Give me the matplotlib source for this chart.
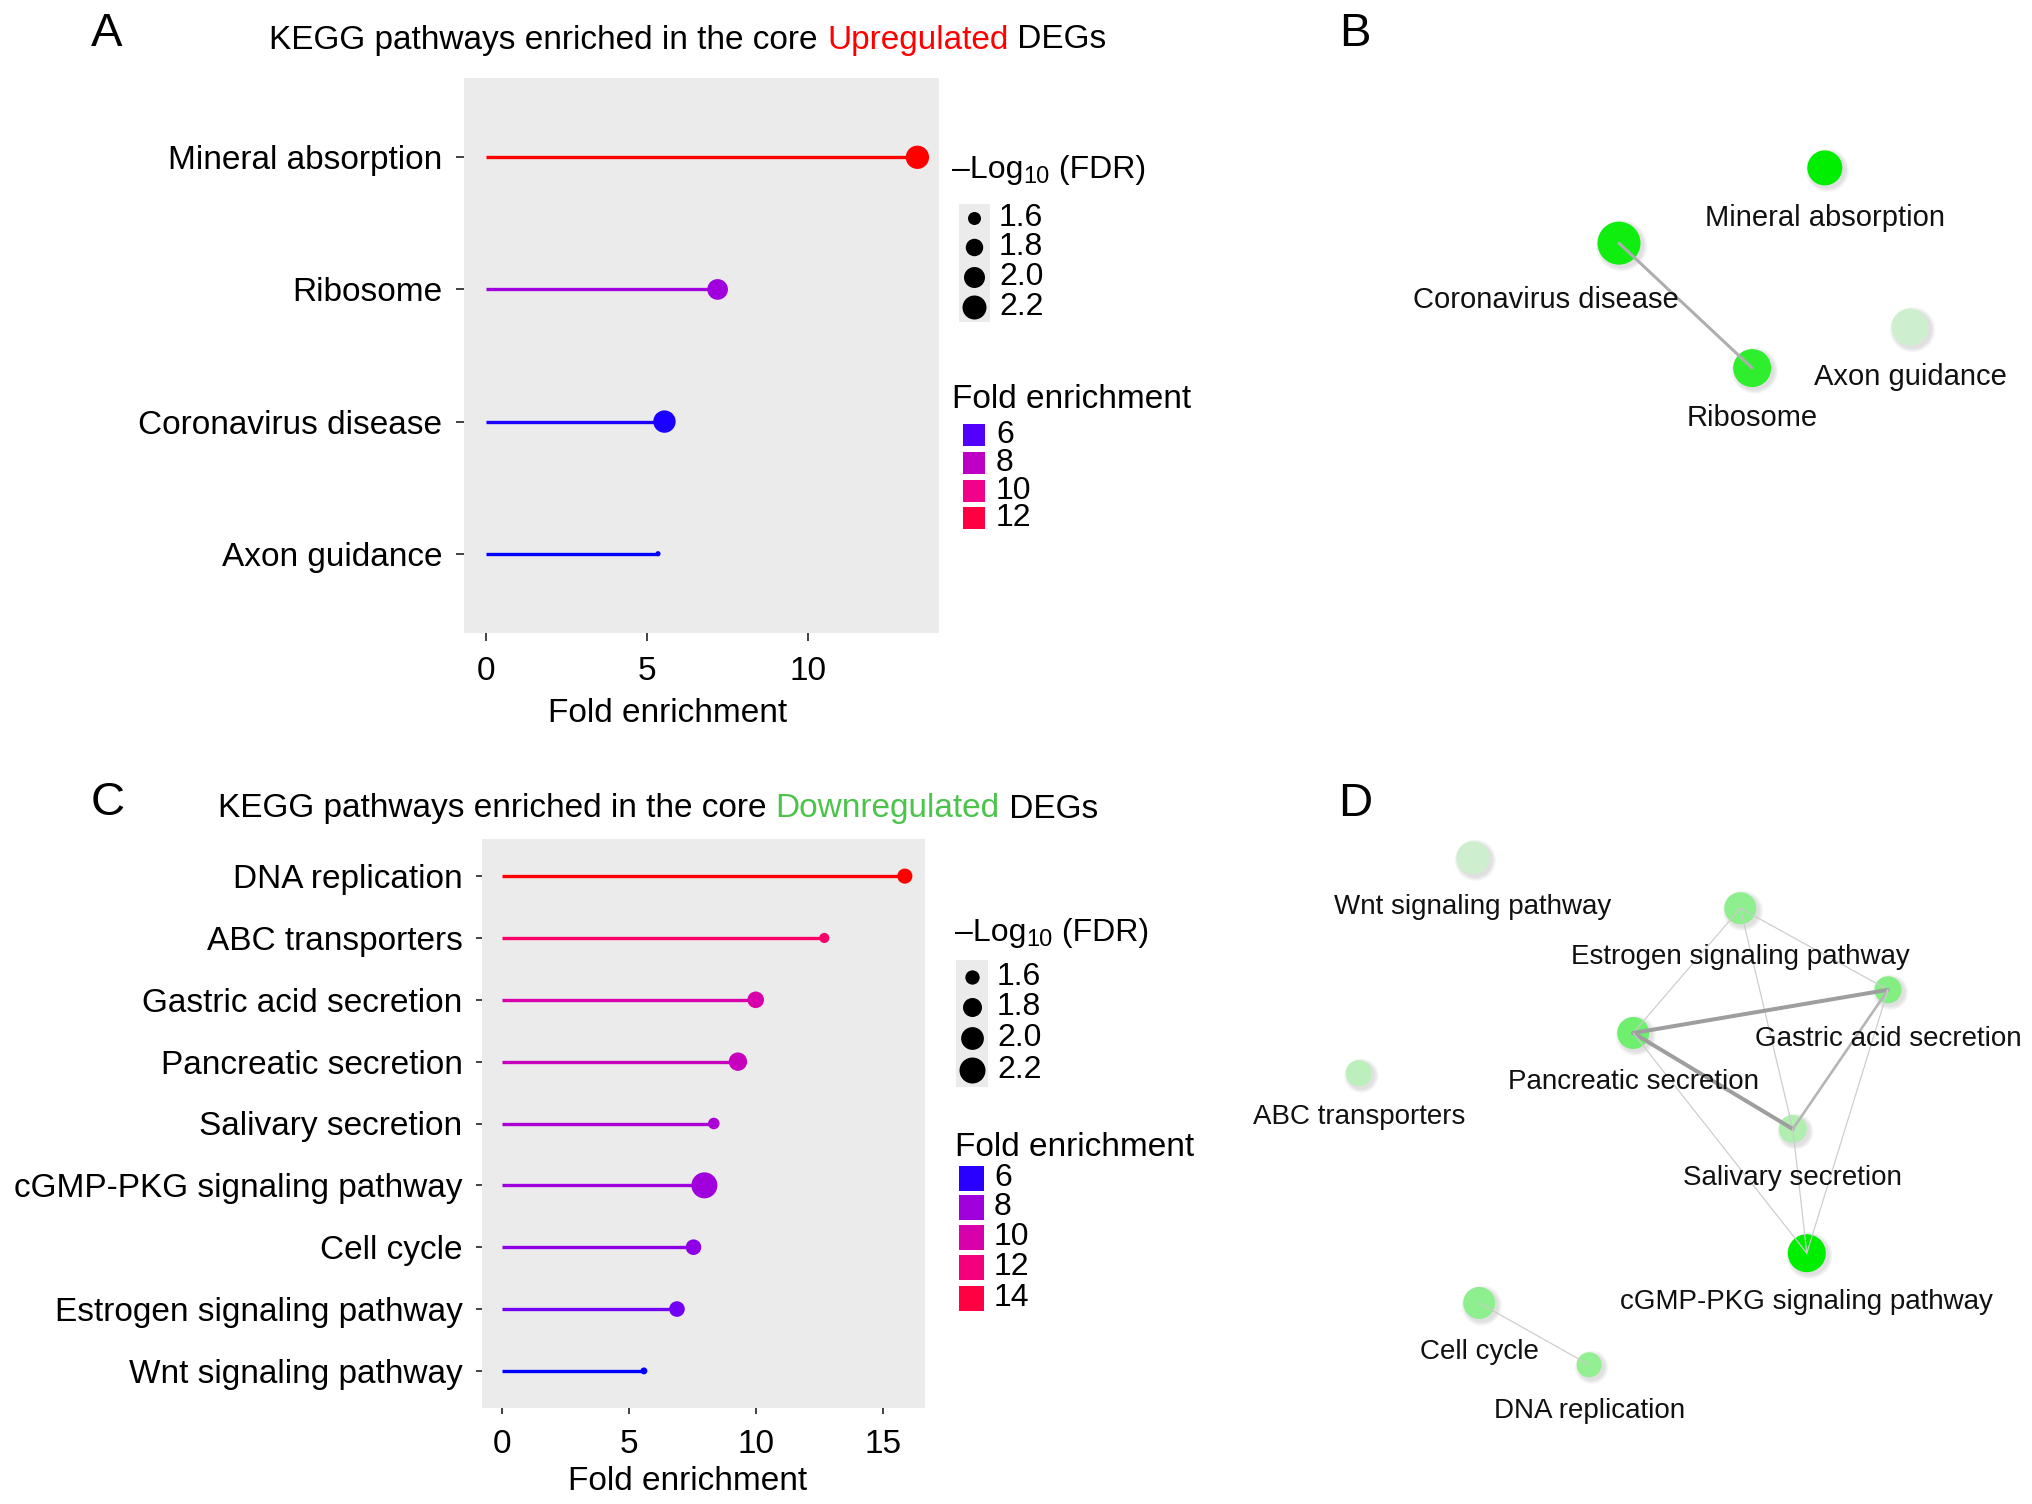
import numpy as np
import matplotlib
matplotlib.use("Agg")
import matplotlib.pyplot as plt
from matplotlib.patches import Rectangle
from matplotlib.colors import LinearSegmentedColormap
from matplotlib import transforms

plt.rcParams['font.family'] = ['Liberation Sans', 'DejaVu Sans']
plt.rcParams['mathtext.default'] = 'regular'

# ---------------- data ----------------
up_terms = ["Mineral absorption", "Ribosome", "Coronavirus disease", "Axon guidance"]
up_fold = [13.4, 7.2, 5.55, 5.35]
up_logfdr = [2.15, 1.98, 2.09, 1.39]

down_terms = ["DNA replication", "ABC transporters", "Gastric acid secretion",
              "Pancreatic secretion", "Salivary secretion", "cGMP-PKG signaling pathway",
              "Cell cycle", "Estrogen signaling pathway", "Wnt signaling pathway"]
down_fold = [15.87, 12.7, 10.0, 9.3, 8.35, 7.98, 7.55, 6.9, 5.6]
down_logfdr = [1.63, 1.47, 1.69, 1.77, 1.51, 2.2, 1.65, 1.65, 1.40]

size_breaks = [1.6, 1.8, 2.0, 2.2]
up_color_breaks = [6, 8, 10, 12]
down_color_breaks = [6, 8, 10, 12, 14]
up_xticks = [0, 5, 10]
down_xticks = [0, 5, 10, 15]

# network B (layout coordinates, node size, edges with overlap weight)
b_nodes = ["Mineral absorption", "Coronavirus disease", "Axon guidance", "Ribosome"]
b_lx = [0.708, 0.365, 0.850, 0.587]
b_ly = [0.194, 0.409, 0.649, 0.766]
b_nsize = [35, 43, 37, 38]
b_edges = [("Coronavirus disease", "Ribosome", 2.3)]

# network D
d_nodes = ["Wnt signaling pathway", "Estrogen signaling pathway", "Gastric acid secretion",
           "Pancreatic secretion", "ABC transporters", "Salivary secretion",
           "cGMP-PKG signaling pathway", "Cell cycle", "DNA replication"]
d_lx = [0.247, 0.629, 0.840, 0.476, 0.084, 0.704, 0.724, 0.256, 0.413]
d_ly = [0.063, 0.147, 0.283, 0.355, 0.422, 0.515, 0.722, 0.805, 0.908]
d_nsize = [33, 32, 27, 32, 26, 28, 38, 32, 25]
d_edges = [("Estrogen signaling pathway", "Pancreatic secretion", 1),
           ("Estrogen signaling pathway", "Gastric acid secretion", 1),
           ("Estrogen signaling pathway", "Salivary secretion", 1),
           ("Pancreatic secretion", "Gastric acid secretion", 3),
           ("Pancreatic secretion", "Salivary secretion", 3),
           ("Gastric acid secretion", "Salivary secretion", 2),
           ("Pancreatic secretion", "cGMP-PKG signaling pathway", 1),
           ("Salivary secretion", "cGMP-PKG signaling pathway", 1),
           ("Gastric acid secretion", "cGMP-PKG signaling pathway", 1),
           ("Cell cycle", "DNA replication", 1)]

# ---------------- helpers ----------------
W, H, DPI = 2032, 1504, 100
fig = plt.figure(figsize=(W / DPI, H / DPI), dpi=DPI)
fig.patch.set_facecolor("white")

fold_cmap = LinearSegmentedColormap.from_list("blue_red", [
    (0.00, "#0000FF"), (0.05, "#3A00FF"), (0.12, "#7000F5"), (0.23, "#A000DC"),
    (0.33, "#BE00C4"), (0.43, "#D800AA"), (0.58, "#F20088"), (0.70, "#FA0066"),
    (0.83, "#FF0040"), (1.00, "#FF0000")])


def grad_color(v, vmin, vmax):
    t = float(np.clip((v - vmin) / (vmax - vmin), 0, 1))
    return fold_cmap(t)


def px_to_s(d):
    return (d * 72.0 / DPI) ** 2


def make_size_map(d0, d1):
    def f(v):
        a2 = d0 ** 2 + (v - 1.6) / 0.6 * (d1 ** 2 - d0 ** 2)
        return px_to_s(np.sqrt(max(a2, 9.0)))
    return f


def box(x0, y0, x1, y1):
    return [x0 / W, 1 - y1 / H, (x1 - x0) / W, (y1 - y0) / H]


def ftxt(x, y, s, **kw):
    return fig.text(x / W, 1 - y / H, s, **kw)


_R = fig.canvas.get_renderer()


def text_width(s, size):
    t = fig.text(0, 0, s, fontsize=size)
    w = t.get_window_extent(_R).width
    t.remove()
    return w


def colored_title(xc, y, pieces, size):
    total = text_width("".join(p for p, _ in pieces), size)
    x = xc - total / 2
    acc = ""
    for txt, col in pieces:
        off = text_width(acc, size) if acc else 0
        ftxt(x + off, y, txt, color=col, fontsize=size, ha="left", va="center")
        acc += txt


def lollipop(axbox, terms, fold, logfdr, xticks, size_map, tick_len, pad_y, fs):
    ax = fig.add_axes(box(*axbox))
    n = len(terms)
    ypos = np.arange(1, n + 1)
    vmin, vmax = min(fold), max(fold)
    cols = [grad_color(v, vmin, vmax) for v in fold]
    ax.hlines(ypos, 0, fold, colors=cols, lw=2.4, capstyle="butt", zorder=2)
    ax.scatter(fold, ypos, s=[size_map(v) for v in logfdr], c=cols, linewidths=0, zorder=3)
    ax.set_facecolor("#EBEBEB")
    for sp in ax.spines.values():
        sp.set_visible(False)
    ax.set_xlim(-0.05 * vmax, 1.05 * vmax)
    ax.set_ylim(n + 0.6, 0.4)
    ax.set_yticks(ypos)
    ax.set_yticklabels(terms, fontsize=fs)
    ax.set_xticks(xticks)
    ax.set_xticklabels([str(v) for v in xticks], fontsize=fs)
    ax.tick_params(axis="y", length=tick_len, width=1.3, color="#333333", pad=pad_y)
    ax.tick_params(axis="x", length=tick_len, width=1.3, color="#333333", pad=10.5)
    return ax, vmin, vmax


def network(axbox, nodes, lx, ly, nsize, edges, fdr_lookup, fs, label_dx, label_dy, dy_over):
    ax = fig.add_axes(box(*axbox))
    ax.set_xlim(0, 1)
    ax.set_ylim(1, 0)
    ax.axis("off")
    idx = {nm: i for i, nm in enumerate(nodes)}
    for a, b, w in edges:
        i, j = idx[a], idx[b]
        g = 0.80 - 0.09 * (w - 1)
        ax.plot([lx[i], lx[j]], [ly[i], ly[j]], color=(g, g, g), lw=(1.2 + 1.4 * (w - 1)) * 0.72,
                solid_capstyle="round", zorder=3)
    vals = [fdr_lookup[nm] for nm in nodes]
    vmin, vmax = min(vals), max(vals)
    pale = np.array([205, 239, 205]) / 255
    bright = np.array([0, 238, 0]) / 255
    for k in range(3):
        tr = transforms.offset_copy(ax.transData, fig=fig, x=2.5, y=-2.5, units="dots")
        ax.scatter(lx, ly, s=[px_to_s(d + 2 + 3 * k) for d in nsize], color=(0.3, 0.3, 0.3, 0.06),
                   linewidths=0, transform=tr, zorder=1)
    cols = []
    for v in vals:
        t = (v - vmin) / (vmax - vmin)
        cols.append(tuple(pale + t * (bright - pale)))
    ax.scatter(lx, ly, s=[px_to_s(d) for d in nsize], c=cols, linewidths=0, zorder=2)
    for i, nm in enumerate(nodes):
        dx = label_dx.get(nm, 0)
        dy = dy_over.get(nm, label_dy)
        ax.annotate(nm, (lx[i], ly[i]), xytext=(dx * 0.72, -dy * 0.72), textcoords="offset points",
                    ha="center", va="center", fontsize=fs, color="#111111", zorder=4)
    return ax


# ---------------- panel A ----------------
size_map_a = make_size_map(13, 24)
axA, aminv, amaxv = lollipop((464, 78, 939, 633), up_terms, up_fold, up_logfdr, up_xticks,
                             size_map_a, 5.8, 10, 24)
ftxt(668, 714, "Fold enrichment", fontsize=24, ha="center", va="center")

# ---------------- panel C ----------------
size_map_c = make_size_map(14.3, 26)
axC, cminv, cmaxv = lollipop((481.5, 839, 925, 1408), down_terms, down_fold, down_logfdr, down_xticks,
                             size_map_c, 4.6, 9, 24)
ftxt(688, 1482, "Fold enrichment", fontsize=24, ha="center", va="center")

# ---------------- panel B / D ----------------
up_lookup = dict(zip(up_terms, up_logfdr))
down_lookup = dict(zip(down_terms, down_logfdr))
network((1400, 100, 2000, 450), b_nodes, b_lx, b_ly, b_nsize, b_edges, up_lookup, 21,
        {"Coronavirus disease": -73}, 50, {"Coronavirus disease": 57})
network((1300, 820, 2000, 1420), d_nodes, d_lx, d_ly, d_nsize, d_edges, down_lookup, 20, {}, 49,
        {"ABC transporters": 44, "DNA replication": 46})

# ---------------- legends (overlay) ----------------
ov = fig.add_axes([0, 0, 1, 1], zorder=10)
ov.set_xlim(0, W)
ov.set_ylim(H, 0)
ov.axis("off")


def fdr_title(x, y):
    parts = [("\u2013Log", 23, 0), ("10", 17, 7), (" (FDR)", 23, 0)]
    cx = x
    for s, size, dy in parts:
        ov.text(cx, y + dy, s, fontsize=size, ha="left", va="center")
        cx += text_width(s, size)


def legends(tx, ty_size, grey, dot_x, dot_ys, lab_x, size_map, ty_col, key_x, key_w, key_ys, breaks,
            vmin, vmax):
    fdr_title(tx, ty_size)
    gx0, gy0, gx1, gy1 = grey
    ov.add_patch(Rectangle((gx0, gy0), gx1 - gx0, gy1 - gy0, facecolor="#EBEBEB", edgecolor="none"))
    for v, y in zip(size_breaks, dot_ys):
        ov.scatter([dot_x], [y], s=size_map(v), c="black", linewidths=0)
        ov.text(lab_x, y, f"{v:.1f}", fontsize=23, ha="left", va="center")
    ov.text(tx, ty_col, "Fold enrichment", fontsize=24, ha="left", va="center")
    for v, y in zip(breaks, key_ys):
        ov.add_patch(Rectangle((key_x, y - key_w / 2), key_w, key_w,
                               facecolor=grad_color(v, vmin, vmax), edgecolor="none"))
        ov.text(lab_x - 3, y, str(v), fontsize=23, ha="left", va="center")


legends(952, 170, (959, 204, 990, 322), 974, [218, 247, 277, 307], 999, size_map_a,
        400, 963, 22, [435, 463, 491, 518], up_color_breaks, aminv, amaxv)
legends(955, 933, (956, 960, 988, 1087), 972, [977, 1007, 1038, 1070], 997, size_map_c,
        1147, 959, 25, [1178, 1207, 1237, 1267, 1298], down_color_breaks, cminv, cmaxv)

# ---------------- titles and panel letters ----------------
colored_title(688, 40, [("KEGG pathways enriched in the core ", "black"), ("Upregulated", "#FF0000"),
                        (" DEGs", "black")], 24)
colored_title(658, 809, [("KEGG pathways enriched in the core ", "black"), ("Downregulated", "#4CC44C"),
                         (" DEGs", "black")], 24)
for letter, x, y in [("A", 107, 34), ("B", 1355, 34), ("C", 108, 803), ("D", 1355, 804)]:
    ftxt(x, y, letter, fontsize=34, ha="center", va="center")

fig.savefig("out.png", dpi=DPI, facecolor="white")
